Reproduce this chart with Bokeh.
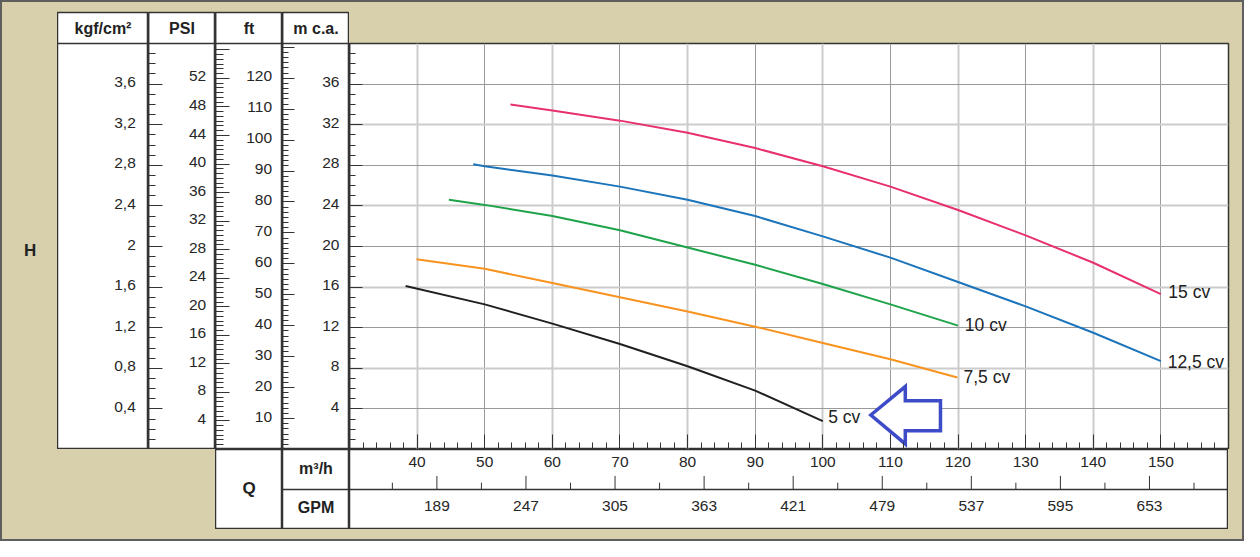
from bokeh.plotting import figure
from bokeh.layouts import row, column
from bokeh.models import (Range1d, LinearAxis, FixedTicker, Span, Grid, Spacer,
                          CustomJSTickFormatter)
from bokeh.core.properties import value
from bokeh.embed import file_html
from bokeh.resources import INLINE

# ------------------------------------------------------------------ data
curve_names = ["15 cv", "12,5 cv", "10 cv", "7,5 cv", "5 cv"]
curve_colors = ["#e8306b", "#1c74bb", "#1fa34a", "#f7931e", "#231f20"]

q_15 = [53.8, 60, 70, 80, 90, 100, 110, 120, 130, 140, 150]
h_15 = [34.0, 33.4, 32.4, 31.2, 29.7, 27.9, 25.9, 23.6, 21.1, 18.4, 15.3]
q_125 = [48.3, 50, 60, 70, 80, 90, 100, 110, 120, 130, 140, 150]
h_125 = [28.1, 27.9, 27.0, 25.9, 24.6, 23.0, 21.0, 18.9, 16.5, 14.1, 11.5, 8.7]
q_10 = [44.7, 50, 60, 70, 80, 90, 100, 110, 120]
h_10 = [24.6, 24.1, 23.0, 21.6, 19.9, 18.2, 16.3, 14.3, 12.2]
q_75 = [39.9, 50, 60, 70, 80, 90, 100, 110, 119.9]
h_75 = [18.75, 17.8, 16.4, 15.0, 13.6, 12.1, 10.5, 8.9, 7.1]
q_5 = [38.3, 50, 60, 70, 80, 90, 100]
h_5 = [16.1, 14.3, 12.4, 10.4, 8.2, 5.8, 2.8]

label_q = [151.1, 151.0, 121.0, 120.8, 100.8]
label_h = [15.5, 8.6, 12.3, 7.1, 3.2]

arrow_q = [107.1, 112.2, 112.2, 117.4, 117.4, 112.2, 112.2]
arrow_h = [3.4, 6.2, 4.8, 4.8, 1.85, 1.85, 0.55]

# axis tick values and labels
kgf_values = [0.4, 0.8, 1.2, 1.6, 2.0, 2.4, 2.8, 3.2, 3.6]
kgf_labels = ["0,4", "0,8", "1,2", "1,6", "2", "2,4", "2,8", "3,2", "3,6"]
psi_values = [4, 8, 12, 16, 20, 24, 28, 32, 36, 40, 44, 48, 52]
psi_labels = [str(v) for v in psi_values]
ft_values = [10, 20, 30, 40, 50, 60, 70, 80, 90, 100, 110, 120]
ft_labels = [str(v) for v in ft_values]
m_values = [4, 8, 12, 16, 20, 24, 28, 32, 36]
m_labels = [str(v) for v in m_values]
q_values = [40, 50, 60, 70, 80, 90, 100, 110, 120, 130, 140, 150]
q_labels = [str(v) for v in q_values]
gpm_values = [189, 247, 305, 363, 421, 479, 537, 595, 653]
gpm_labels = [str(v) for v in gpm_values]
gpm_minor = [160, 218, 276, 334, 392, 450, 508, 566, 624, 682]

headers = ["kgf/cm²", "PSI", "ft", "m c.a."]

# unit conversions (from metres of water column / m3/h)
KGF_PER_M = 0.1
PSI_PER_M = 1.4223
FT_PER_M = 3.2808
GPM_PER_M3H = 4.4029

# ------------------------------------------------------------------ style / geometry
FONT = value("Liberation Sans")
INK = "#262626"
EDGE = "#333333"
BEIGE = "#d8d0ad"
LABEL_SIZE = "15.5px"
HEAD_SIZE = "16px"

TOP_H = 449          # height of the upper block
BOT_H = 92           # height of the lower block
PANEL_H = 80         # white lower panels
HEAD_TOP = 12        # white columns start here
FRAME_TOP = 43       # plot frame starts here
PX_PER_M = (TOP_H - FRAME_TOP) / 40.0
TOP_M = (TOP_H - HEAD_TOP) / PX_PER_M
HEAD_Y = 40 + (FRAME_TOP - HEAD_TOP) / 2 / PX_PER_M


def blank(width, height, y_end, top=0, x_range=None):
    f = figure(width=width, height=height,
               x_range=x_range if x_range is not None else Range1d(0, width),
               y_range=Range1d(0, y_end),
               x_axis_type=None, y_axis_type=None,
               output_backend="svg", toolbar_location=None,
               min_border=0, min_border_top=top)
    f.background_fill_color = "white"
    f.border_fill_color = None
    f.outline_line_color = EDGE
    f.outline_line_width = 1.5
    return f


def tick_axis(major, minor, maj_len, min_len, y_range_name=None):
    kw = {}
    if y_range_name:
        kw["y_range_name"] = y_range_name
    return LinearAxis(ticker=FixedTicker(ticks=major, minor_ticks=minor),
                      major_tick_in=maj_len, major_tick_out=0,
                      minor_tick_in=min_len, minor_tick_out=0,
                      major_label_text_font_size="0px", major_label_standoff=0,
                      formatter=CustomJSTickFormatter(code="return ''"),
                      axis_line_color=EDGE, axis_line_width=1.5,
                      major_tick_line_color=EDGE, minor_tick_line_color=EDGE,
                      major_tick_line_width=1, minor_tick_line_width=1, **kw)


def header(f, width, text):
    f.add_layout(Span(location=40, dimension="width", line_color=EDGE, line_width=1.5))
    f.text(x=[width / 2], y=[HEAD_Y], text=[text], text_font=FONT,
           text_font_size=HEAD_SIZE, text_font_style="bold", text_color="#222222",
           text_align="center", text_baseline="middle")


def tick_labels(f, x, ys, texts):
    f.text(x=[x] * len(ys), y=ys, text=texts, text_font=FONT, text_font_size=LABEL_SIZE,
           text_color=INK, text_align="right", text_baseline="middle", y_offset=-2)


# ------------------------------------------------------------------ H column
fH = figure(width=57, height=TOP_H, x_range=Range1d(0, 57), y_range=Range1d(0, TOP_M),
            x_axis_type=None, y_axis_type=None, output_backend="svg",
            toolbar_location=None, min_border=0, min_border_top=HEAD_TOP)
fH.background_fill_color = None
fH.border_fill_color = None
fH.outline_line_color = None
fH.text(x=[29.6], y=[19.65], text=["H"], text_font=FONT, text_font_size="17px",
        text_font_style="bold", text_color="#222222", text_align="center",
        text_baseline="middle")

# kgf column (labels)
fA = blank(91, TOP_H, TOP_M, top=HEAD_TOP)
header(fA, 91, headers[0])
tick_labels(fA, 78.3, [v / KGF_PER_M for v in kgf_values], kgf_labels)

# PSI column: kgf ticks on its left edge, PSI labels
fB = blank(67, TOP_H, TOP_M, top=HEAD_TOP)
fB.extra_y_ranges = {"u": Range1d(0, TOP_M * KGF_PER_M)}
kgf_minor = [round(0.1 * i, 1) for i in range(1, 40) if i % 4 != 0]
fB.add_layout(tick_axis(kgf_values, kgf_minor, 14, 7, y_range_name="u"), "left")
header(fB, 67, headers[1])
tick_labels(fB, 57.7, [v / PSI_PER_M for v in psi_values], psi_labels)

# ft column: PSI ticks, ft labels
fC = blank(67, TOP_H, TOP_M, top=HEAD_TOP)
fC.extra_y_ranges = {"u": Range1d(0, TOP_M * PSI_PER_M)}
psi_major = psi_values + [56]
psi_minor = [k * 4 / 6 for k in range(1, 84) if k % 6 != 0]
fC.add_layout(tick_axis(psi_major, psi_minor, 14, 8, y_range_name="u"), "left")
header(fC, 67, headers[2])
tick_labels(fC, 56.5, [v / FT_PER_M for v in ft_values], ft_labels)

# m c.a. column: ft ticks, metre labels
fD = blank(67, TOP_H, TOP_M, top=HEAD_TOP)
fD.extra_y_ranges = {"u": Range1d(0, TOP_M * FT_PER_M)}
ft_major = ft_values + [130]
ft_minor = [k * 10 / 6 for k in range(1, 78) if k % 6 != 0]
fD.add_layout(tick_axis(ft_major, ft_minor, 12, 6, y_range_name="u"), "left")
header(fD, 67, headers[3])
tick_labels(fD, 56.9, m_values, m_labels)

# ------------------------------------------------------------------ main plot
main = figure(width=895, height=TOP_H, x_range=Range1d(30, 160), y_range=Range1d(0, 40),
              x_axis_type=None, y_axis_type=None, output_backend="svg",
              toolbar_location=None, min_border=0, min_border_top=FRAME_TOP,
              min_border_right=16)
main.background_fill_color = "white"
main.border_fill_color = None
main.outline_line_color = EDGE
main.outline_line_width = 1.5

m_minor = [i for i in range(1, 40) if i % 4 != 0]
main.add_layout(tick_axis(m_values, m_minor, 13, 6), "left")
q_minor = [v for v in range(32, 160, 2) if v % 10 != 0]
main.add_layout(tick_axis(q_values, q_minor, 15, 7), "below")

main.add_layout(Grid(dimension=0, ticker=FixedTicker(ticks=q_values[0::2]),
                     grid_line_color="#cccccc", grid_line_width=2))
main.add_layout(Grid(dimension=0, ticker=FixedTicker(ticks=q_values[1::2]),
                     grid_line_color="#9a9a9a", grid_line_width=1))
main.add_layout(Grid(dimension=1, ticker=FixedTicker(ticks=m_values[1::2]),
                     grid_line_color="#cccccc", grid_line_width=2))
main.add_layout(Grid(dimension=1, ticker=FixedTicker(ticks=m_values[0::2]),
                     grid_line_color="#9a9a9a", grid_line_width=1))

for qs, hs, c in zip([q_15, q_125, q_10, q_75, q_5], [h_15, h_125, h_10, h_75, h_5],
                     curve_colors):
    main.line(qs, hs, line_color=c, line_width=2)

main.text(x=label_q, y=label_h, text=curve_names, text_font=FONT, text_font_size="17.5px",
          text_color="#222222", text_align="left", text_baseline="middle")

main.patch(arrow_q, arrow_h, fill_color="white", line_color="#3d4bc9", line_width=3.5,
           line_join="miter")

# ------------------------------------------------------------------ bottom rows
SEP = PANEL_H / 2
fQ = blank(67, PANEL_H, PANEL_H)
fQ.text(x=[33.5], y=[41.4], text=["Q"], text_font=FONT, text_font_size="17px",
        text_font_style="bold", text_color="#222222", text_align="center",
        text_baseline="middle")

fU = blank(67, PANEL_H, PANEL_H)
fU.add_layout(Span(location=SEP, dimension="width", line_color=EDGE, line_width=1.5))
fU.text(x=[33.5, 33.5], y=[60.8, 22], text=["m³/h", "GPM"], text_font=FONT,
        text_font_size=HEAD_SIZE, text_font_style="bold", text_color="#222222",
        text_align="center", text_baseline="middle")

fq = blank(879, PANEL_H, PANEL_H, x_range=main.x_range)
fq.extra_x_ranges = {"gpm": Range1d(30 * GPM_PER_M3H, 160 * GPM_PER_M3H)}
fq.add_layout(Span(location=SEP, dimension="width", line_color=EDGE, line_width=1.5))
fq.segment(x0=gpm_values, y0=[SEP] * len(gpm_values), x1=gpm_values,
           y1=[SEP + 13.6] * len(gpm_values), x_range_name="gpm", line_color=EDGE,
           line_width=1)
fq.segment(x0=gpm_minor, y0=[SEP] * len(gpm_minor), x1=gpm_minor,
           y1=[SEP + 6.8] * len(gpm_minor), x_range_name="gpm", line_color=EDGE,
           line_width=1)
fq.text(x=q_values, y=[67.6] * len(q_values), text=q_labels, text_font=FONT,
        text_font_size=LABEL_SIZE, text_color=INK, text_align="center",
        text_baseline="middle")
fq.text(x=gpm_values, y=[23.5] * len(gpm_values), text=gpm_labels, text_font=FONT,
        text_font_size=LABEL_SIZE, text_color=INK, text_align="center",
        text_baseline="middle", x_range_name="gpm")

# ------------------------------------------------------------------ layout
left = column(row(fH, fA, fB, fC, fD), row(Spacer(width=215, height=BOT_H), fQ, fU))
right = column(main, row(fq, Spacer(width=16, height=PANEL_H)))
page = row(left, right, styles={"background-color": BEIGE,
                                "outline": "2px solid #5e5e5e",
                                "outline-offset": "-2px"})

open("out.html", "w").write(file_html(page, INLINE))
